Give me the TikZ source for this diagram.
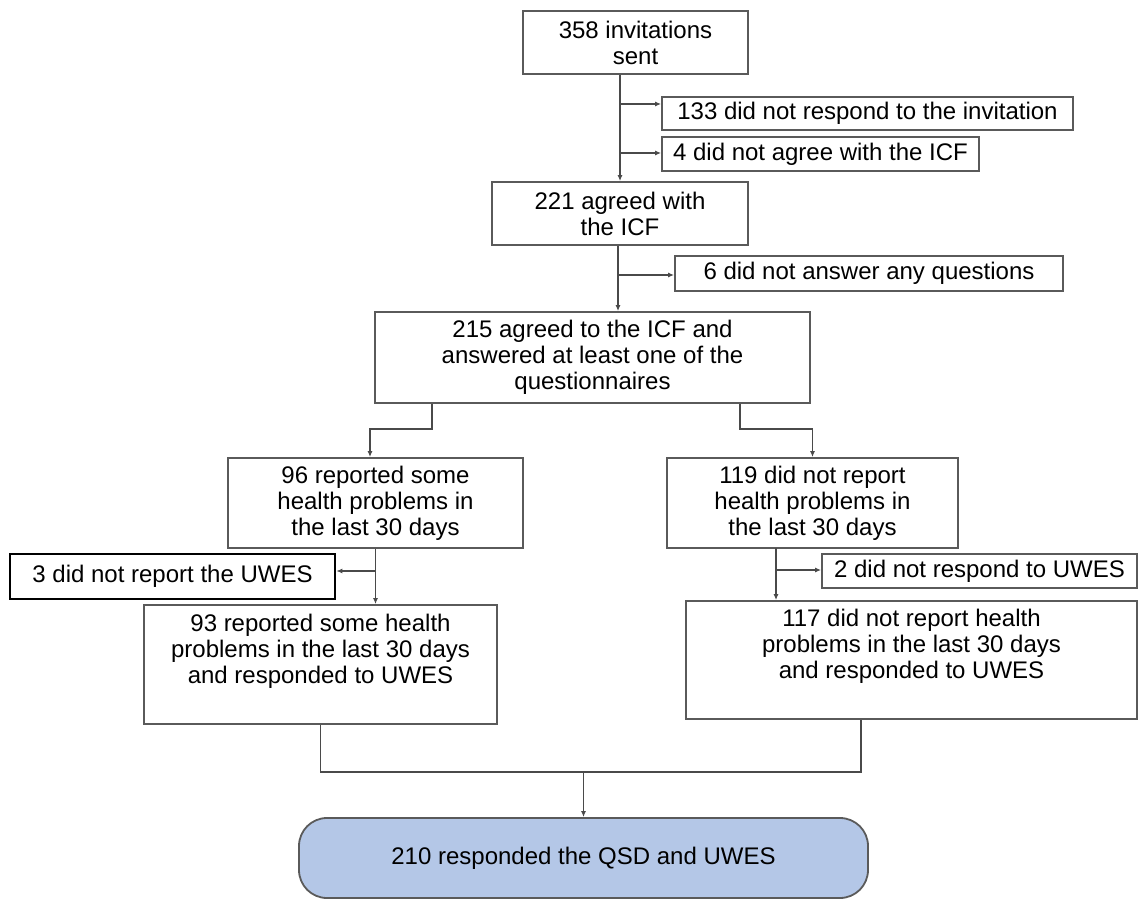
\documentclass[tikz,border=0pt]{standalone}
\usepackage{fontspec}
\setmainfont{Liberation Sans}
\usetikzlibrary{arrows.meta,calc}
\definecolor{linegray}{HTML}{4A4A4A}
\definecolor{boxgray}{HTML}{5A5A5A}
\definecolor{bluefill}{HTML}{B4C7E7}
\tikzset{
  box/.style={draw=boxgray, line width=1.8pt, fill=white, rectangle, inner sep=0pt,
    align=center, font=\fontsize{24}{26}\selectfont, text=black},
  darkbox/.style={box, draw=black, line width=2.6pt},
  finalbox/.style={box, fill=bluefill, rounded corners=28pt},
  conn/.style={draw=linegray, line width=1.8pt},
  arr/.style={conn, -{Latex[length=6pt,width=5pt]}}
}
\begin{document}
\begin{tikzpicture}[x=1pt,y=-1pt]
\useasboundingbox (0,0) rectangle (1138,901);
% boxes
\node[box, minimum width=225pt, minimum height=63pt] (b358) at (635.5,42.5) {358 invitations\\sent};
\node[box, minimum width=411pt, minimum height=33pt] (b133) at (867.5,113.5) {133 did not respond to the invitation};
\node[box, minimum width=317pt, minimum height=34pt] (b4) at (820.5,154) {4 did not agree with the ICF};
\node[box, minimum width=256pt, minimum height=63pt] (b221) at (620,213.5) {221 agreed with\\the ICF};
\node[box, minimum width=388pt, minimum height=35pt] (b6) at (869,273.5) {6 did not answer any questions};
\node[box, minimum width=435pt, minimum height=91pt] (b215) at (592.5,357.5) {215 agreed to the ICF and\\answered at least one of the\\questionnaires};
\node[box, minimum width=295pt, minimum height=90pt] (b96) at (375.5,503) {96 reported some\\health problems in\\the last 30 days};
\node[box, minimum width=291pt, minimum height=90pt] (b119) at (812.5,503) {119 did not report\\health problems in\\the last 30 days};
\node[darkbox, minimum width=325pt, minimum height=45pt] (b3) at (172.5,576.5) {3 did not report the UWES};
\node[box, minimum width=353pt, minimum height=119pt] (b93) at (320.5,664.5) {93 reported some health\\problems in the last 30 days\\and responded to UWES\\[6pt]};
\node[box, minimum width=315pt, minimum height=34pt] (b2) at (979.5,571) {2 did not respond to UWES};
\node[box, minimum width=451pt, minimum height=118pt] (b117) at (911.5,660) {117 did not report health\\problems in the last 30 days\\and responded to UWES\\[6pt]};
\node[finalbox, minimum width=569pt, minimum height=80pt] (b210) at (583.5,858) {210 responded the QSD and UWES};

% junction coordinates
\coordinate (j133) at (620,104);
\coordinate (j4) at (620,153);
\coordinate (j6) at (618,275);
\coordinate (jl) at (432,429);
\coordinate (jr) at (740,429);
\coordinate (j3) at (375.5,571);
\coordinate (tr) at (776,548);
\coordinate (j2) at (776,570);
\coordinate (mL) at (320.5,772);
\coordinate (mR) at (861,772);

% connectors
\draw[arr] (b358.south -| b221.north) -- (b221.north);
\draw[arr] (j133) -- (j133 -| b133.west);
\draw[arr] (j4) -- (j4 -| b4.west);
\draw[arr] (b221.south -| j6) -- (b215.north -| j6);
\draw[arr] (j6) -- (j6 -| b6.west);
\draw[arr] (b215.south -| jl) -- (jl) -- (jl -| b96.north -| 370,0) -- (b96.north -| 370,0);
\draw[arr] (b215.south -| jr) -- (jr) -- (jr -| b119.north) -- (b119.north);
\draw[arr] (b96.south) -- (b93.north -| b96.south);
\draw[arr] (j3) -- (j3 -| b3.east);
\draw[arr] (tr) -- (b117.north -| tr);
\draw[arr] (j2) -- (j2 -| b2.west);
\draw[conn] (b93.south) -- (mL) -- (mR) -- (b117.south -| mR);
\draw[arr] (mL -| b210.north) -- (b210.north);
\end{tikzpicture}
\end{document}
